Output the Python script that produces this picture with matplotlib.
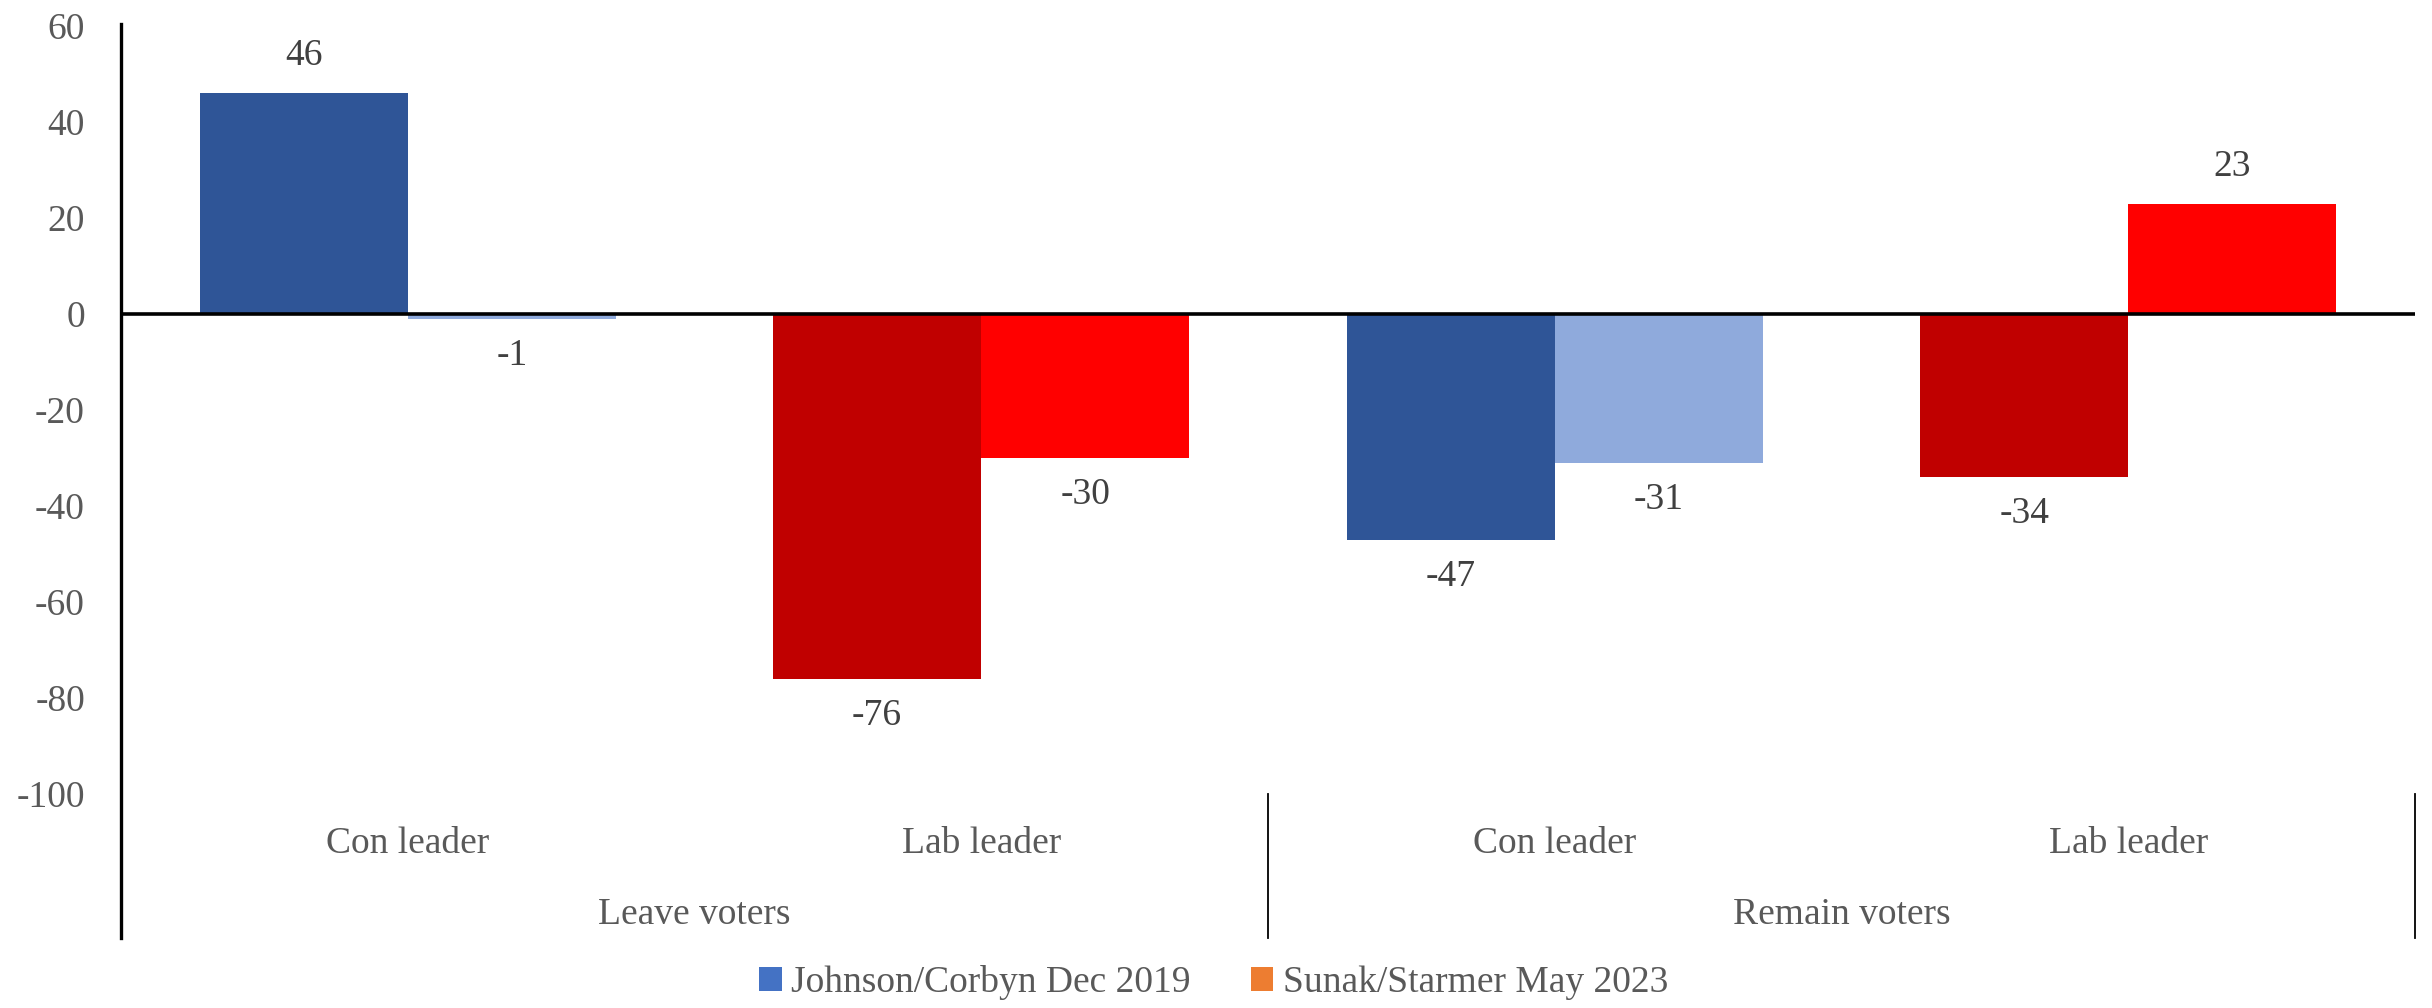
import matplotlib
matplotlib.use('Agg')
import matplotlib.pyplot as plt
from matplotlib.patches import Patch
import matplotlib.transforms as mtransforms

# Données
leaders = ['Con leader', 'Lab leader', 'Con leader', 'Lab leader']
groups = ['Leave voters', 'Remain voters']
series_names = ['Johnson/Corbyn Dec 2019', 'Sunak/Starmer May 2023']
vals_2019 = [46, -76, -47, -34]
vals_2023 = [-1, -30, -31, 23]
colors_2019 = ['#2F5597', '#C00000', '#2F5597', '#C00000']
colors_2023 = ['#8FAADC', '#FF0000', '#8FAADC', '#FF0000']
legend_colors = ['#4472C4', '#ED7D31']
yticks = [-100, -80, -60, -40, -20, 0, 20, 40, 60]

plt.rcParams['font.family'] = ['Liberation Serif', 'DejaVu Serif']

fig = plt.figure(figsize=(24.32, 10.08), dpi=100)
W, H = 2432, 1008
left, right, top, bottom = 121, 2415, 26, 794
ax = fig.add_axes([left / W, 1 - bottom / H, (right - left) / W, (bottom - top) / H])

x = list(range(len(leaders)))
bw = 0.363
ax.bar([i - bw / 2 for i in x], vals_2019, width=bw, color=colors_2019, zorder=2)
ax.bar([i + bw / 2 for i in x], vals_2023, width=bw, color=colors_2023, zorder=2)

ax.set_xlim(-0.5, len(leaders) - 0.5)
ax.set_ylim(-100, 60)
ax.set_yticks(yticks)
ax.set_yticklabels([str(v) for v in yticks])
ax.tick_params(axis='y', length=0, pad=26, labelsize=27, labelcolor='#595959')
ax.set_xticks([])

for s in ['top', 'right', 'bottom']:
    ax.spines[s].set_visible(False)
ax.spines['left'].set_visible(False)

ax.axhline(0, color='black', linewidth=2.6, zorder=3)

# Étiquettes de données
for i in x:
    for v, off in [(vals_2019[i], -bw / 2), (vals_2023[i], bw / 2)]:
        dy = 37 if v >= 0 else -37
        ax.annotate(str(v), (i + off, v), xytext=(0, dy * 0.72), textcoords='offset points',
                    ha='center', va='center', fontsize=27, color='#404040')

# Axe des catégories à deux niveaux
trans = mtransforms.blended_transform_factory(ax.transData, ax.transAxes)
ext = -(938 - bottom) / (bottom - top)
ax.plot([0, 0], [1.003, ext], transform=ax.transAxes, color='black', linewidth=2.4, clip_on=False)
ax.plot([1.5, 1.5], [0, ext], transform=trans, color='black', linewidth=1.3, clip_on=False)
ax.plot([3.5, 3.5], [0, ext], transform=trans, color='black', linewidth=1.3, clip_on=False)

lab_y = -(844 - bottom) / (bottom - top)
grp_y = -(915 - bottom) / (bottom - top)
for i, name in enumerate(leaders):
    ax.text(i, lab_y, name, transform=trans, ha='center', va='center', fontsize=27, color='#595959')
for g, name in enumerate(groups):
    ax.text(0.5 + 2 * g, grp_y, name, transform=trans, ha='center', va='center', fontsize=27, color='#595959')

handles = [Patch(facecolor=c, label=n) for c, n in zip(legend_colors, series_names)]
leg = fig.legend(handles=handles, loc='center', bbox_to_anchor=(0.499, 1 - 983 / H), ncol=2,
                 frameon=False, fontsize=27, handlelength=0.6, handleheight=0.6,
                 handletextpad=0.25, columnspacing=1.6)
for t in leg.get_texts():
    t.set_color('#595959')

fig.savefig('out.png', dpi=100)
